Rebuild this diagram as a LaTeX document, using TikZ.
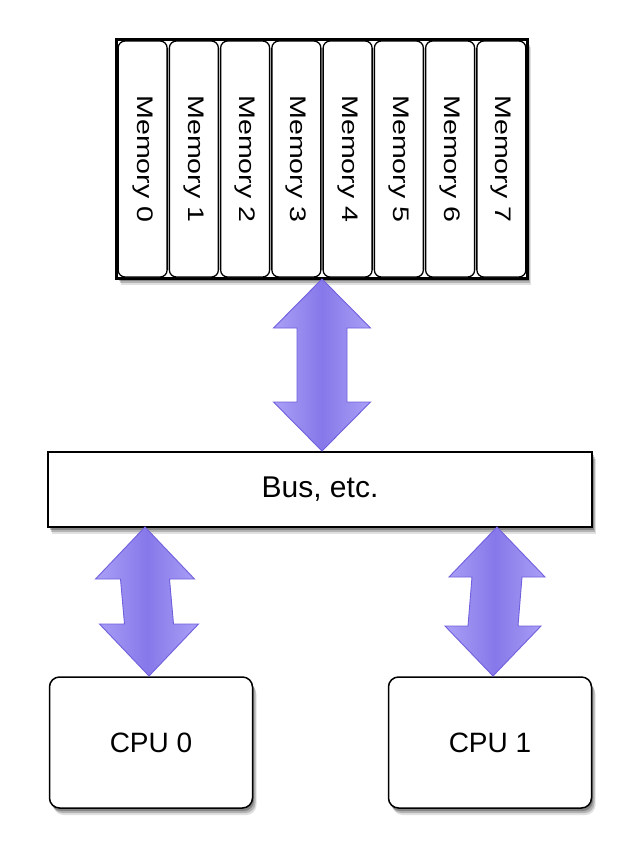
\documentclass[tikz,border=0pt]{standalone}
\usepackage{fontspec}
\setmainfont{Liberation Sans}
\usetikzlibrary{shadows,calc}
\definecolor{arrowlight}{RGB}{170,160,246}
\definecolor{arrowmid}{RGB}{134,120,233}
\definecolor{arrowedge}{RGB}{112,96,222}
\newcommand\memfont{\fontsize{22.5}{26}\selectfont}
\newcommand\memlabel[1]{\scalebox{1.27}[1]{#1}}
\tikzset{
  boxshadow/.style={
    drop shadow={shadow xshift=1.5pt, shadow yshift=-3pt, opacity=0.25, fill=black},
    drop shadow={shadow xshift=3pt, shadow yshift=-5pt, opacity=0.2, fill=black},
    drop shadow={shadow xshift=4pt, shadow yshift=-7pt, opacity=0.12, fill=black}},
  membank/.style={draw=black, line width=1.3pt, fill=white, rotate=-90,
    minimum width=236pt, minimum height=49pt, rounded corners=7pt, inner sep=0pt, font=\memfont},
  memouter/.style={draw=black, line width=2pt, fill=white, minimum width=410pt, minimum height=238pt, inner sep=0pt},
  busbox/.style={draw=black, line width=2pt, fill=white, minimum width=544pt, minimum height=75pt,
    inner sep=0pt, font=\fontsize{30}{36}\selectfont, boxshadow},
  cpubox/.style={draw=black, line width=1.5pt, fill=white, minimum width=203pt, minimum height=131pt,
    rounded corners=10pt, inner sep=0pt, font=\fontsize{28}{34}\selectfont, boxshadow},
  fatarrowstyle/.style={draw=arrowedge, line width=0.9pt, line join=miter,
    left color=arrowlight, right color=arrowlight, middle color=arrowmid}
}
% #1 top tip, #2 bottom tip, #3 head half width, #4 shaft half width, #5 head length
\newcommand\fatarrow[5]{%
  \draw[fatarrowstyle] (#1) -- ($(#1)+(#3,#5)$) -- ($(#1)+(#4,#5)$) -- ($(#2)+(#4,-#5)$)
    -- ($(#2)+(#3,-#5)$) -- (#2) -- ($(#2)+(-#3,-#5)$) -- ($(#2)+(-#4,-#5)$)
    -- ($(#1)+(-#4,#5)$) -- ($(#1)+(-#3,#5)$) -- cycle;}
\begin{document}
\begin{tikzpicture}[x=1pt,y=-1pt]
\useasboundingbox[fill=white] (0,0) rectangle (640,865);
% memory block
\node[memouter, boxshadow] (mem) at (322,159) {};
\foreach \i in {0,...,7}{
  \node[membank] (mem\i) at ({117+51.25*(\i+0.5)},159) {\memlabel{Memory \i}};
}
\draw[line width=2pt] (mem.north west) rectangle (mem.south east);
% bus and CPUs
\node[busbox] (bus) at (320,489.5) {Bus, etc.};
\node[cpubox] (cpu0) at (151,742.5) {CPU 0};
\node[cpubox] (cpu1) at (490,742.5) {CPU 1};
% arrow end points
\coordinate (mtip) at (mem.south);
\coordinate (btip) at (mtip |- bus.north);
\coordinate (l1) at (145,527);
\coordinate (l2) at (149,676);
\coordinate (r1) at (497,527);
\coordinate (r2) at (493,676);
\fatarrow{mtip}{btip}{48.5}{25}{49}
\fatarrow{l1}{l2}{49.5}{24.5}{52}
\fatarrow{r1}{r2}{48}{25}{50}
\end{tikzpicture}
\end{document}
